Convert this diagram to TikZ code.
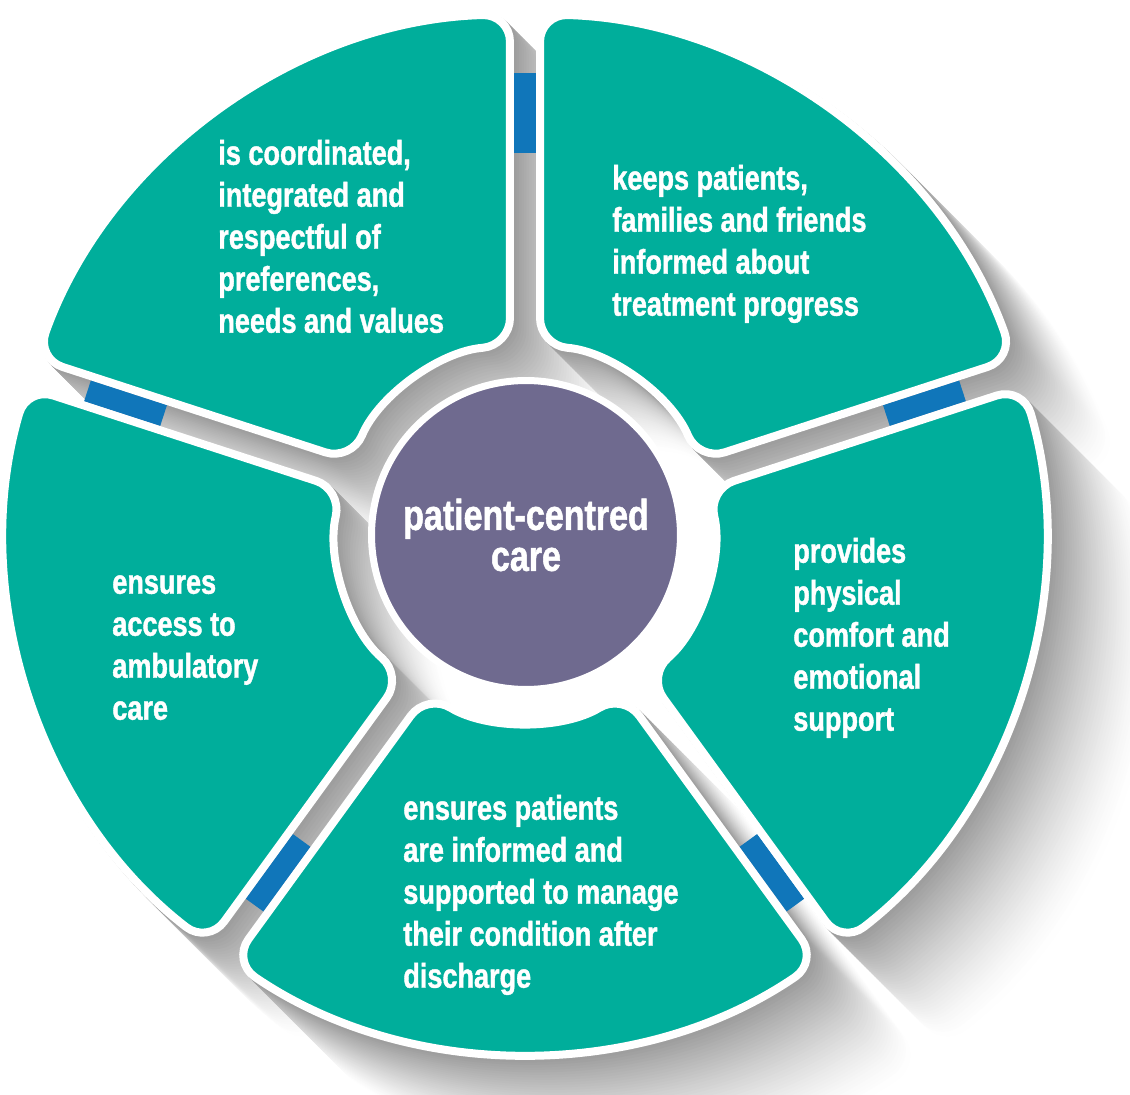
\documentclass[tikz,border=0pt]{standalone}
\usepackage{fontspec}
\usepackage{tikz}
\usepackage{xcolor}

\newfontfamily\wheelfont{Liberation Sans}[FakeStretch=0.79, BoldFeatures={FakeBold=1.2}]

\definecolor{petalteal}{RGB}{0,174,155}
\definecolor{hubpurple}{RGB}{111,106,143}
\definecolor{tabblue}{RGB}{16,118,186}

% one petal of the wheel, between two gap angles
\newcommand{\petal}[2]{({#1+1.66}:519)
  arc[start angle={#1+1.66}, end angle={#2-1.66}, radius=519]
  -- ({#2-4.58}:188)
  arc[start angle={#2-4.58}, end angle={#1+4.58}, radius=188] -- cycle}

\begin{document}
\begin{tikzpicture}[
    x=0.02cm, y=0.02cm,
    petal/.style={fill=petalteal, draw=white, line width=0.16cm, rounded corners=0.55cm},
    ghost/.style={line width=0.16cm, rounded corners=0.55cm},
    tab/.style={fill=tabblue},
    blurb/.style={anchor=north west, align=left, inner sep=0pt, text=white, font=\wheelfont\bfseries\fontsize{19.5}{23.9}\selectfont},
    hub/.style={circle, fill=hubpurple, draw=white, line width=0.14cm, minimum size=6.18cm, align=center, text=white, font=\wheelfont\bfseries\fontsize{24.5}{23.3}\selectfont}
]
\useasboundingbox (-525,-562) rectangle (605,533);
\clip (-525,-562) rectangle (605,533);

% layered shadow, far layers first
\foreach \i in {40,39,...,1} {
    \pgfmathsetmacro{\tone}{38*((41-\i)/40)^1.4}
    \path[ghost, fill=black!\tone, draw=black!\tone, shift={(2.5*\i,-2.5*\i)}]
        \petal{90}{162} \petal{162}{234} \petal{234}{306} \petal{306}{378} \petal{18}{90};
}

% blue tabs in the gaps
\foreach \a in {18,90,162,234,306}
    \fill[tab, rotate=\a] (380,-11) rectangle (460,11);

% petals
\path[petal] \petal{90}{162};
\path[petal] \petal{162}{234};
\path[petal] \petal{234}{306};
\path[petal] \petal{306}{378};
\path[petal] \petal{18}{90};

% texts
\node[blurb] (coord) at (-307,398) {\strut is coordinated,\\integrated and\\respectful of\\preferences,\\needs and values};
\node[blurb] (inform) at (87,373) {\strut keeps patients,\\families and friends\\informed about\\treatment progress};
\node[blurb] (access) at (-413,-31) {\strut ensures\\access to\\ambulatory\\care};
\node[blurb] (comfort) at (268,0) {\strut provides\\physical\\comfort and\\emotional\\support};
\node[blurb] (manage) at (-122,-257) {\strut ensures patients\\are informed and\\supported to manage\\their condition after\\discharge};

% centre
\node[hub] (pcc) at (1,-2) {patient-centred\\care};

\end{tikzpicture}
\end{document}
